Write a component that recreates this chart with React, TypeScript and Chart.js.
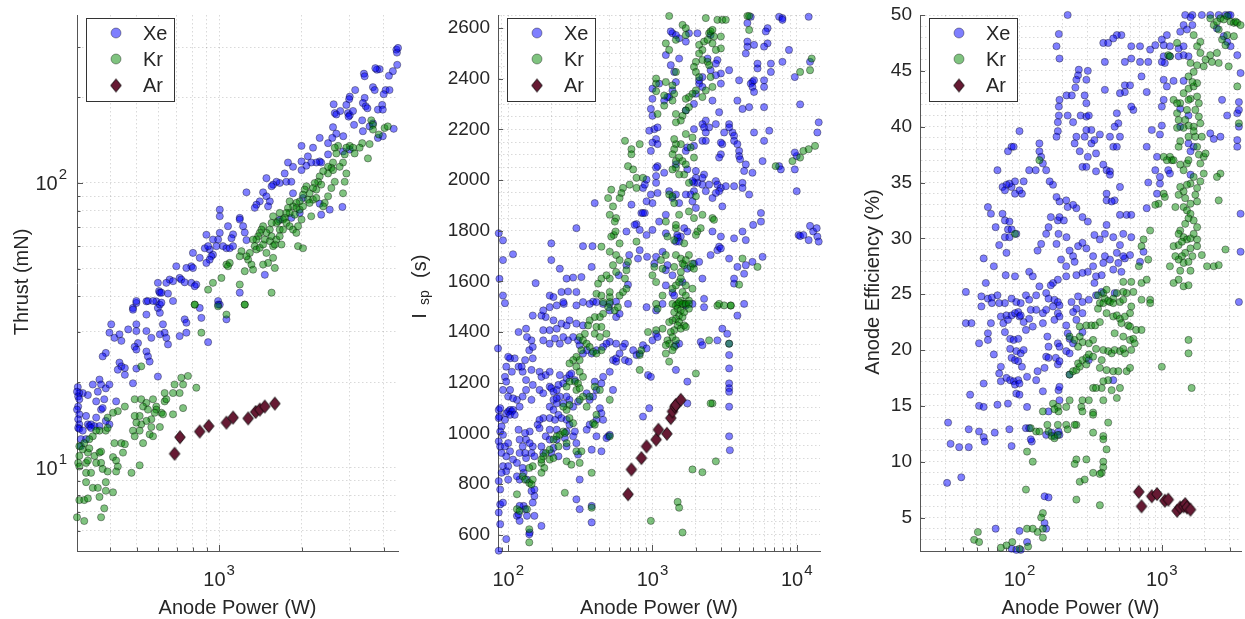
import React, { useEffect, useRef } from 'react';
import { Chart, registerables } from 'chart.js';

Chart.register(...registerables);

type Pt = [number, number];

const FONT = '"Liberation Sans", Arial, Helvetica, sans-serif';
const TEXT = '#262626';
const AXIS = '#555555';
const GRID = 'rgba(0,0,0,0.15)';
const XE_FILL = 'rgba(0,0,255,0.5)';
const KR_FILL = 'rgba(0,135,0,0.5)';
const AR_FILL = '#661a33';
const EDGE = 'rgba(0,0,0,0.45)';

// ---------- Panel 1: Thrust (mN) vs Anode Power (W) ----------
const thrustXe: Pt[] = [
  [4440,294],[4460,287],[4500,298],[4470,260],[4310,247],[4170,238],[3856,251],[3770,250],[3720,253],[3380,242],[3400,237],[3646,217],[3700,212],[4055,212],[4190,212],[3990,205],[3940,188],[3800,181],[3960,181],[3400,199],[3350,191],[3430,186],[3480,183],[3140,212],[3000,201],[2985,197],[2915,188],[2955,176],[3000,173],[3083,179],[3110,160],[2970,171],[2620,189],[2645,176],[2680,174],[2770,179],[2606,157],[2680,149],[2590,144],[2840,146],[3330,166],[3350,152],[3545,158],[3646,162],[3800,144],[3960,146],[4340,155],
  [2330,144],[2203,133],[2000,135],[2500,138],[2500,126],[2835,129],[3000,131],[2330,119],[2360,118],[2265,118],[2170,118],[2083,115],[2110,124],[2000,119],[2000,111],[1862,114],[1785,118],[1761,101],[1736,108],[1665,100],[1620,101],[1575,98.7],[1489,104],[1555,97.4],[1836,101],[1862,92],[2025,88.6],[1970,78.5],[1836,75.4],[1665,74.3],[1448,92.7],[1408,86.2],[1369,83.9],[1350,81.8],[1259,92.7],[1489,89.8],[1532,86.2],[1510,82.8],[2330,84.6],[2360,77.4],[2820,82.4],[2535,80.6],[1190,75.4],[1190,74.4],[1224,70.5],[1241,67],[1259,63],[1125,66],[1110,64],[1078,70.5],[1006,80.6],[1006,76.4],[1006,66.8],[992,63.3],[1034,60],[1064,59],[1094,59],[1125,60],[978,60],[950,63.3],[924,58.4],[899,65.8],[887,59],[912,60],[950,56],[937,55.3],[924,53.8],[899,52.4],[850,54.6],[803,56.8],[792,51],[803,50.3],[760,50.3],[698,51],[718,46.4],[728,45.8],[660,45.8],[679,45.2],[642,44.6],[792,44.6],[826,44],[815,43.4],[749,44.8],[598,44.6],[604,41.7],[608,41.2],[616,41.2],[651,40.9],[1469,47.6],[1190,41.2],[992,38.5],[1006,37.4],[485,36.4],[499,37.9],[543,38.4],[590,38.4],[598,36.4],[608,37.4],
  [499,38.5],[550,38.5],[574,38.5],[616,38],[608,35],[543,34.5],[485,35.9],[679,38.5],[749,33.2],[760,32.3],[850,36.4],[862,33.6],[1064,33.2],[992,37.4],[404,31.9],[499,31.9],[499,30.2],[543,30.2],[624,31.9],[633,29.8],[642,28.6],[608,29.4],[566,28.6],[718,29],[760,29.8],[651,27.1],[398,29.8],[415,28.6],[433,29.4],[440,27.9],[466,30.6],[506,27.4],[492,26.6],[499,26],[543,25.6],[550,24.6],[558,23.6],[386,25.3],[376,24.6],[433,23.4],[440,22.7],[427,22.1],[453,22.4],[453,21.2],[499,22.3],[598,20.9],[485,19.8],[366,20.4],[371,19.6],[386,19],[398,19.6],[361,18.5],[346,19.6],[332,18],[318,18.3],[309,18.3],[305,19.2],[303,18.5],[306,17.8],[309,17.4],[306,16.4],[303,16],[309,15.4],[306,14.8],[309,14.2],[306,13.8],[309,13.7],[313,12.6],[327,12.6],[332,14.2],[327,15.2],[336,14],[341,14.2],[351,14],[356,15],[366,14],[398,14.2],[386,14.6],[356,17.1],[371,16],[381,17.4],[421,17.1],[376,16.2],[313,11.9],[341,13.8],[318,13.5],[912,27.6],
];
const thrustKr: Pt[] = [
  [3595,166],[3646,160],[4020,156],[4130,158],[3830,148],[3646,154],[3545,137],[3495,122],[3330,138],[3260,133],[3000,135],[3083,133],[3125,127],[2915,133],[2875,126],[2720,135],[2645,133],[2680,127],[2835,118],[2756,114],[2606,118],[2570,113],[2500,114],[2500,108],[2606,111],[2915,108],[2875,101],[2645,101],[2570,96],[2400,110],[2330,105.5],[2300,101],[2360,98.7],[2235,100],[2265,94.8],[2203,96],[2140,92],[2110,87.4],[2203,87.4],[2265,88.6],[2500,89.8],[2835,92],[2430,85.1],[2400,82.8],[2083,97.4],[2054,94.8],[2025,91],[1970,86.2],[1915,85.1],[1862,82.8],[1810,86.2],[1785,81.7],[1915,81.7],[1970,80.6],[2025,82.8],[1890,77.4],[1810,78.5],[1761,78.5],[1736,75.4],[1712,74.4],[1665,78.5],[1643,73.4],[1620,72.4],[1665,68.6],[1712,68.6],[1761,72.4],[1810,70.5],[1862,68.6],[1915,66.8],[1942,70.5],[2000,74.4],[2170,76.4],[2140,85.1],[1575,76.4],[1555,72.4],[1532,68.6],[1489,66.8],[1448,70.5],[1428,68.6],[1408,66.8],[1389,65],[1369,63.3],[1331,63.3],[1350,60],[1369,58.4],[1408,59.2],[1448,60.8],[1469,63.3],[1532,62.5],[1575,60],[1598,60.8],[1555,65],[1620,63.3],[1665,65],[1690,60.8],[1489,56.8],[1510,52.4],[1448,51.7],[1575,54.6],[1598,50.3],[1555,41.2],[1295,56.8],[1277,53.8],[1259,55.3],[1207,57.6],[1190,55.3],[1313,51.7],[1331,49.6],[1241,49],[1190,44],[1064,51.7],[1094,52.4],[1078,51],[1020,46.4],[950,44.6],[912,42.2],[815,37.4],[1241,37.4],[1942,60],[2025,59],
  [815,37.4],[992,36.9],[1064,34.5],[1241,37.4],[862,29.8],[520,22.7],[492,17.4],[520,17.4],[574,17.4],[543,16.9],[528,16.4],[590,16.4],[633,17.1],[642,17.4],[633,18.3],[688,19.6],[728,20.7],[718,18.3],[739,19.6],[770,21],[826,19.1],[679,18.3],[739,16.2],[679,15.4],[616,15.6],[624,15.4],[590,16],[550,16],[582,15.6],[566,14.8],[543,14.6],[520,14.2],[513,15.2],[492,15.2],[499,14.4],[485,13.5],[492,12.9],[513,13.5],[566,13.9],[608,13.9],[558,13.1],[528,12.2],[574,12.9],[453,16.4],[427,15.8],[410,15.6],[392,15],[386,13.5],[392,13.8],[366,13.5],[356,13.5],[346,12.9],[336,12.6],[322,12.2],[309,11.9],[318,11.6],[332,11.3],[336,11.7],[309,11],[306,10.4],[309,10.1],[327,10.4],[332,10.6],[351,11],[366,11.3],[371,11.4],[356,10.4],[371,10.4],[376,9.9],[410,10.9],[421,10.6],[427,10.1],[421,9.7],[392,9.7],[446,11.3],[440,12.2],[453,12.1],[415,12.2],[479,9.6],[513,10.2],[327,9.6],[341,9.6],[327,8.9],[309,7.7],[322,7.7],[332,7.8],[346,8.5],[361,8.5],[366,7.9],[386,8.9],[386,8.3],[381,7.2],[410,8.2],[303,6.7],[322,6.5],[371,6.7],
];
const thrustAr: Pt[] = [
  [688,11.2],[720,12.8],[850,13.4],[917,14],[1064,14.4],[1125,15],[1277,14.9],[1360,15.7],[1408,16],[1469,16.4],[1598,16.8],
];
const thrustXTicks = [400,500,600,700,800,900,1000,2000,3000,4000];
const thrustYTicks = [6,7,8,9,10,20,30,40,50,60,70,80,90,100,200,300];

// ---------- Panel 2: Isp (s) vs Anode Power (W) ----------
const ispXe: Pt[] = [
  [86,1790],[92,1762],[92,1684],[108,1707],[87,1610],[92,1544],[95,1514],[155,1593],[199,1750],[228,1650],[199,1684],[297,1810],[398,1909],[330,1739],[384,1739],[379,1657],[282,1615],[322,1617],[254,1611],[194,1544],[206,1538],[234,1558],[260,1560],[297,1558],[243,1511],[330,1518],[388,1520],[506,1511],[560,1520],[584,1624],[677,1587],[660,1664],[690,1704],[794,1690],[816,1723],[918,1697],[1060,1697],[1030,1670],[910,1783],[816,1803],[775,1826],[753,1823],[838,1870],[885,1870],[860,1870],[715,1903],[660,1797],[1000,1803],[1113,1836],[1238,1863],[1377,1929],[1306,1956],[1454,1943],[1531,1909],[1660,1810],[1745,1797],[1572,1777],[1454,1757],[1485,1783],[1495,1773],[1531,1757],[1238,1790],[1175,1717],[1270,1664],[1238,1644],[1377,1624],[1377,1555],[1415,1544],[1238,1584],[1617,1597],[1745,1650],[1940,1670],[2107,1677],[2220,1611],[2280,1531],[2530,1704],[2606,1797],[2820,1723],[2899,1737],[2980,1777],[2980,1730],[3400,1690],[3680,1770],[3680,1591],[3680,1611],[3880,1657],[4320,1630],[4436,1664],[4934,1677],[4990,1823],[5650,1836],[4210,1797],[4436,1763],[5800,1697],[4210,1989],[4210,1969],[4680,1943],[4320,2036],[4934,2029],[4436,2062],[5650,1870],[10000,1956],[10300,1783],[10560,1779],[11120,1783],[12100,1763],[12370,1819],[13000,1797],[13760,1810],[13900,1777],[14200,1757],[14200,2228],[13900,2188],[10000,2095],[9700,2042],[7551,2055],[7760,2042],[9700,2109],[10560,2299],[9700,2407],[12100,2645],[12370,2467],[7551,2645],[7960,2640],[7960,2633],[8840,2514],[7960,2467],[6620,2460],[6620,2427],[6280,2540],[6280,2600],[6104,2587],[5940,2527],[5060,2534],[5350,2441],[4436,2500],[4550,2527],[4550,2547],[4550,2620],[4800,2645],[4934,2388],[4800,2381],[5060,2394],[4934,2368],[5060,2348],[5940,2394],[5940,2368],[5940,2288],[6450,2195],[5940,2155],[5060,2188],[4210,2281],[4680,2288],[3400,2434],[3988,2394],[3880,2314],[3400,2221],[3586,2188],[3680,2175],[3680,2155],[3880,2142],[3988,2115],[3988,2095],[4050,2082],[3400,2208],[3140,2188],[3050,2142],[2980,2148],[2980,2102],[2899,2089],[2750,2221],[2899,2268],[2980,2381],[2980,2421],[2820,2474],[2750,2460],[2750,2414],[2410,2480],[2530,2434],[2606,2314],[2470,2208],[2343,2235],[2220,2221],[2280,2208],[2343,2188],[2220,2155],[2343,2155],[2750,1996],[2820,1982],[2980,1969],[3224,1976],[3680,1976],[2899,1956],[2750,1949],[2606,1929],[3050,1896],[2470,1982],[2280,2022],[2220,2009],[2220,1982],[2343,1956],[2000,2009],[2050,1989],[1940,1956],[1940,1989],[1840,1943],[1745,2042],[1703,2115],[1745,2129],[1940,2135],[1940,2201],[1703,2275],[1940,2301],[2000,2341],[2107,2381],[2220,2368],[2107,2394],[2220,2407],[2530,2573],[2050,2580],[1790,2580],[1703,2547],[1531,2560],[1377,2580],[1454,2573],[1340,2587],[1238,2494],[1531,2480],[1340,2454],[1415,2427],[1454,2387],[1377,2354],[1306,2328],[1270,2328],[1206,2314],[1113,2381],[1000,2361],[1000,2321],[975,2281],[1000,2254],[1030,2201],[1085,2208],[1060,2162],[950,2195],[1000,2148],[1085,2142],[975,2115],[1085,2055],[1060,2049],[1060,2016],[1060,1989],[1085,1949],[975,1943],[1000,1909],[910,1916],[860,1969],[885,1982],[910,2002],[1206,2029],[1454,2062],[1703,1943],[1894,1996],[2000,2036],[1894,1916],[2000,1890],[5800,2075],[5350,2460],
  [85,1335],[86,1092],[88,1099],[87,1066],[86,1060],[97,1079],[100,1086],[103,1092],[106,1086],[108,1092],[103,1073],[111,1073],[120,1105],[95,1053],[90,1027],[88,1007],[92,994],[86,968],[88,948],[95,948],[100,961],[103,929],[90,922],[97,909],[108,896],[115,883],[92,870],[100,870],[97,850],[90,844],[100,817],[86,811],[88,778],[88,719],[92,726],[86,687],[88,641],[97,582],[86,536],[115,674],[120,654],[118,680],[128,713],[131,700],[120,713],[135,674],[141,608],[140,601],[148,726],[152,752],[145,772],[152,778],[170,634],[152,674],[120,817],[115,830],[128,844],[135,817],[126,863],[133,902],[145,922],[152,909],[131,922],[126,948],[133,975],[148,948],[141,961],[170,948],[175,922],[141,1007],[131,1001],[120,975],[120,922],[118,1014],[115,1132],[126,1145],[133,1171],[133,1210],[126,1243],[118,1263],[124,1263],[131,1289],[140,1328],[145,1367],[148,1341],[135,1380],[133,1413],[118,1400],[111,1296],[103,1296],[97,1263],[106,1243],[95,1223],[97,1204],[103,1171],[92,1171],[100,1145],[108,1138],[100,1302],[148,1296],[145,1250],[165,1243],[170,1223],[182,1230],[194,1243],[148,1191],[165,1171],[175,1158],[145,1132],[194,1184],[199,1178],[206,1164],[217,1171],[223,1191],[241,1197],[228,1230],[254,1217],[266,1230],[274,1236],[290,1210],[206,1132],[217,1118],[194,1105],[206,1092],[223,1073],[234,1060],[194,1060],[211,1053],[175,1060],[165,1053],[160,1034],[165,1020],[194,1014],[217,1014],[182,988],[194,975],[217,975],[206,942],[199,922],[223,909],[254,948],[247,981],[282,988],[290,1007],[254,1007],[266,1034],[254,1053],[297,961],[305,916],[350,1014],[367,1034],[409,1053],[432,1099],[493,988],[506,994],[480,981],[409,988],[379,935],[313,817],[297,739],[313,700],[379,713],[379,648],[443,929],[305,1125],[282,1105],[266,1132],[254,1145],[241,1118],[228,1145],[217,1138],[350,1158],[367,1132],[388,1145],[409,1171],[443,1197],[455,1223],[506,1243],[533,1289],[560,1283],[645,1289],[685,1283],[560,1296],[592,1315],[645,1354],[735,1328],[775,1309],[625,1341],[560,1354],[506,1361],[480,1354],[455,1341],[409,1328],[379,1315],[350,1328],[330,1315],[313,1348],[305,1367],[282,1380],[260,1367],[241,1380],[228,1354],[211,1374],[194,1354],[175,1367],[175,1407],[194,1407],[217,1413],[234,1433],[254,1426],[266,1446],[297,1433],[330,1426],[206,1446],[182,1459],[170,1465],[148,1465],[175,1485],[194,1498],[217,1505],[241,1518],[297,1505],[367,1511],[409,1518],[455,1511],[506,1485],[560,1459],[592,1472],[677,1511],[910,1498],[1060,1485],[1175,1511],[860,1348],[910,1335],[1000,1367],[932,1230],[975,1223],[816,1315],[1060,1393],[1085,1380],[1454,1250],[1745,1204],[1745,1118],[950,1099],[860,1066],[533,1171],[443,1079],[455,1053],[398,1204],[1531,1354],[1454,1348],[2160,1361],[2220,1348],[2820,1367],[3050,1413],[3300,1393],[3400,1354],[3400,1309],[3400,1256],[3400,1197],[3400,1178],[3400,1164],[3400,1105],[3400,988],[3440,933],[3880,1465],[4320,1511],[1703,1505],[1894,1511],[2280,1498],
];
const ispKr: Pt[] = [
  [1306,2648],[1617,2613],[1703,2600],[1454,2554],[1703,2573],[1238,2540],[1306,2514],[2107,2534],[2280,2547],[2470,2580],[2530,2587],[2606,2593],[2820,2633],[3050,2633],[3224,2633],[2343,2640],[4550,2648],[4680,2648],[4680,2593],[2670,2567],[2410,2554],[2980,2567],[2980,2520],[2750,2514],[2606,2540],[2220,2514],[2107,2500],[2220,2474],[2000,2467],[1940,2447],[2000,2427],[2107,2407],[2410,2467],[2470,2454],[2530,2407],[2606,2368],[2343,2354],[2220,2328],[2000,2354],[1894,2341],[1790,2328],[1703,2321],[1790,2288],[1703,2275],[1617,2254],[1572,2235],[1454,2228],[1454,2261],[1377,2314],[1415,2341],[1377,2374],[1206,2334],[1206,2294],[1085,2261],[1060,2351],[1060,2381],[1060,2401],[1238,2387],[1454,2427],[1703,2182],[1894,2168],[1840,2129],[1940,2089],[1572,2142],[1454,2142],[1415,2162],[1415,2122],[1377,2102],[1454,2075],[1531,2089],[1617,2075],[1703,2062],[1660,2022],[1454,2049],[1377,2042],[1306,1943],[1377,1936],[1415,1909],[1531,2022],[1790,1989],[2000,1936],[1238,1836],[1531,1863],[1790,1876],[1940,1850],[2606,1850],[2670,1843],[2220,1863],[2050,1797],[2160,1810],[2000,1783],[1454,1810],[1454,1823],[1415,1763],[1270,1777],[1660,1750],[1790,1704],[1454,1704],[1572,1690],[1617,1670],[1660,1664],[1703,1684],[1840,1657],[1940,1650],[1894,1670],[1572,1637],[1415,1657],[1030,1657],[1145,1684],[1175,1650],[1000,1624],[1060,1597],[1377,1571],[1454,1584],[1531,1597],[1572,1611],[1703,1584],[1617,1558],[1703,1544],[1790,1524],[1572,1524],[1495,1511],[1660,1511],[1894,1571],[2820,1504],[3490,1504],[3988,1587],[5350,1657],[4210,1690],[10560,2089],[11120,2115],[12100,2122],[13400,2135],[12370,2434],[12700,2480],[10560,2427],[7150,2055],[9342,2075],[645,2155],[816,2142],[715,2122],[715,2102],[677,2055],[735,2042],[775,2009],[860,2009],[775,1969],[695,1982],[625,1969],[609,1949],[592,1929],[533,1896],[518,1962],[493,1929],[506,1863],[560,1850],[548,1836],[540,1783],[518,1777],[555,1797],[506,1717],[443,1737],[592,1750],[560,1704],[533,1664],[592,1684],[677,1677],[660,1644],[645,1611],[560,1637],[506,1611],[480,1624],[443,1611],[420,1591],[409,1551],[443,1544],[455,1518],[506,1538],[592,1544],[625,1558],[660,1571],[506,1558],[1060,1511],[1175,1544],[1238,1704],[775,1757],
  [1377,1511],[1454,1505],[1531,1518],[1617,1511],[1703,1511],[1790,1511],[1495,1492],[1572,1485],[1415,1478],[1531,1465],[1617,1459],[1454,1452],[1377,1446],[1306,1439],[1531,1439],[1660,1426],[1495,1426],[1572,1413],[1415,1407],[1340,1400],[1377,1380],[1270,1367],[1306,1354],[1454,1367],[1415,1341],[1377,1328],[1238,1315],[1306,1283],[1238,1348],[1703,1420],[1790,1492],[1660,1478],[2899,1511],[3490,1505],[2470,1367],[3400,1354],[2606,1118],[2000,1236],[1175,1413],[1060,1407],[932,1400],[816,1250],[1085,1492],[506,1518],[548,1485],[576,1498],[493,1498],[455,1472],[432,1459],[398,1459],[367,1446],[358,1426],[409,1420],[443,1420],[398,1393],[432,1380],[480,1393],[340,1393],[313,1380],[330,1367],[350,1354],[367,1341],[388,1322],[409,1315],[443,1328],[322,1328],[297,1302],[313,1289],[282,1289],[266,1276],[297,1263],[313,1243],[330,1223],[290,1204],[305,1197],[266,1204],[254,1184],[297,1171],[313,1178],[398,1184],[432,1171],[330,1145],[313,1132],[266,1112],[254,1092],[266,1060],[241,1105],[350,1105],[367,1145],[282,1040],[409,1073],[388,1040],[241,1007],[228,994],[217,988],[247,1001],[206,975],[223,948],[254,961],[194,935],[182,922],[175,909],[170,883],[178,863],[148,870],[170,844],[140,863],[126,830],[131,817],[140,804],[145,798],[148,817],[170,896],[194,896],[206,902],[254,889],[274,876],[297,929],[322,929],[313,883],[247,765],[115,759],[115,700],[120,693],[135,700],[140,621],[140,569],[379,706],[398,1034],[379,844],[506,988],[506,1132],[816,1309],[838,1328],[1495,729],[1531,706],[1617,608],[975,654],[1894,857],[2220,846],[2530,1118],[2750,889],[3140,1505],
];
const ispAr: Pt[] = [
  [677,759],[715,857],[838,902],[910,948],[1060,975],[1100,1014],[1260,998],[1340,1060],[1377,1086],[1430,1105],[1454,1112],[1572,1132],
];
const ispXTicks = [90,100,200,300,400,500,600,700,800,900,1000,2000,3000,4000,5000,6000,7000,8000,9000,10000];

// ---------- Panel 3: Anode Efficiency (%) vs Anode Power (W) ----------
const effXe: Pt[] = [
  [218,50],[189,48.3],[191,46.1],[182,47.2],[261,45.1],[302,45],[258,44.6],[251,44.2],[247,43.5],[295,44.2],[191,42.4],[214,42.8],[233,42.8],[287,42.8],[295,42.1],[189,41.8],[189,41],[186,40.4],[186,39.6],[182,39.1],[218,41],[238,40.4],[269,41],[295,40.9],[307,41],[320,39.7],[295,39.7],[287,39.1],[251,39.1],[244,38.5],[265,37.8],[277,36.4],[295,36.4],[302,37.3],[320,38.5],[336,38.8],[345,37.6],[367,39.3],[345,36],[388,36.6],[409,36.1],[432,36],[409,34],[409,33.4],[466,33.4],[432,35.7],[456,38.2],[483,38.2],[508,34.6],[508,32.1],[566,32.1],[610,32.1],[444,33.3],[409,31.2],[398,30.4],[367,29.9],[336,30.3],[302,31.5],[277,31.9],[251,32.7],[238,33],[218,32.8],[213,33.4],[191,33.3],[182,33.7],[172,34.8],[163,35.1],[154,36.1],[146,36.7],[138,38.5],[138,37.8],[142,37.3],[130,36.1],[117,36.1],[107,35.1],[104,34],[100,34.3],[93,34],[88,34.6],[93,35.1],[85,34.9],[81,34.8],[76,34.6],[88,38.2],[91,38.2],[100,39.6],[83,37.8],[70,36.1],[79,34.3],[60,32.8],[63,32.2],[76,32.2],[79,31.6],[68,31],[83,30.8],[85,31.5],[88,30.8],[95,30.4],[79,30.1],[85,30.1],[72,29.4],[81,28.7],[56,28.2],[66,27.5],[58,26],[80,26.7],[93,26.6],[117,27],[124,26.6],[138,25.7],[134,28.9],[142,29.5],[154,30.4],[160,31],[166,31.9],[186,31.6],[191,31.9],[205,31.6],[188,30.4],[214,30.1],[182,29.5],[225,28.9],[238,28.4],[244,27.9],[258,29.3],[277,29.6],[295,29.1],[329,28.4],[329,27.5],[302,27],[277,26.9],[251,26.7],[213,26.6],[186,26.3],[172,26],[166,25.8],[196,28.1],[213,27.5],[336,26],[345,26.6],[378,26.7],[432,28.1],[456,27.2],[495,27.8],[520,27],[550,28.2],[483,28.7],[508,29.4],[536,28.4],[598,28.5],[610,30.1],[536,30.4],[456,30.1],[398,28.4],[388,27.8],[466,25.1],[703,27.9],[744,28.8],[783,32.7],[803,35],[900,36.1],[970,34.9],[925,34],[783,38.2],[850,39.7],[1000,40.1],[1000,41.8],[1030,42.4],[970,39.3],[925,37.3],[970,35.5],[1110,36.1],[1140,35.8],[783,43.1],[720,44.5],[1030,44.2],[1085,43.6],[1209,44.1],[1422,44.1],[1347,41.6],[1347,40],[1540,41],[1540,38.5],[1674,38.2],[1590,35.7],[1590,37.8],[2190,39.4],[2317,38.9],[2582,39.1],[2650,42.4],[2878,41],[3390,38.8],[3480,40],[3390,41.2],[3480,41.5],[3480,42.2],[3390,38.2],[3575,44.8],[3390,46.4],[3040,47.2],[2878,47.6],[2724,48.1],[2440,48.8],[2510,50],[2800,50],[2950,50],[3040,50],[2190,50],[1910,50],[1640,50],[1590,49.8],[1460,50],[1422,49.1],[1640,49.1],[1502,48.7],[1347,48.5],[1312,47],[1422,47.2],[1540,46.3],[1422,46.4],[1312,46.3],[1140,47.2],[1140,46.3],[1050,45.7],[1030,46.3],[1000,45.8],[1030,47.3],[1085,48.2],[1000,47.8],[900,47.3],[828,46.9],[803,45.8],[703,45.8],[703,47.2],[610,46.1],[610,47.2],[550,45.8],[520,48.2],[483,48.2],[550,43.7],[598,43.7],[631,41.5],[610,41.8],[483,41.2],[495,40.3],[466,40],[432,39.1],[508,39.1],[398,45.8],[388,47.5],[420,47.5],[456,47.9],[398,43.3],[550,43.1],[508,43],[3575,32.2],[3575,28.8],
  [42,25.2],[54,24.8],[60,24.6],[64,24.7],[70,24.9],[79,24.2],[88,24.6],[95,24.3],[102,24.2],[111,24.9],[117,24.5],[131,24.9],[154,25.1],[160,24.6],[176,24.5],[186,24.3],[191,24],[232,24.3],[258,24.8],[277,24.3],[307,24.5],[345,24.9],[378,25.2],
  [54,23.9],[64,24.2],[72,24.2],[74,23],[77,22.4],[81,23.1],[79,21.6],[83,22.7],[88,23.1],[93,23.3],[98,23.4],[100,23],[102,23.1],[107,22.5],[117,22.8],[120,23.6],[124,22.1],[111,21.8],[86,21],[91,20.9],[98,21],[63,22.4],[60,21.5],[42,22.4],[46,22.4],[52,20.6],[60,20.9],[66,19.6],[86,20.1],[95,19.9],[102,19.7],[107,20],[88,19.3],[93,19.1],[98,19],[104,18.5],[113,17.6],[131,17.3],[134,18.1],[74,18.5],[72,17.9],[74,17.2],[81,17.5],[86,17.3],[91,17.2],[93,16.9],[98,17.3],[100,17],[95,16.1],[100,16],[56,17],[70,15.1],[83,15.2],[113,14.9],[146,16.3],[150,18.4],[154,19.4],[160,20.3],[157,21.2],[146,22.4],[146,23.3],[131,23.6],[154,23.6],[172,23.9],[186,23.3],[191,23],[176,22.7],[213,22.2],[218,21.5],[225,21],[186,20.6],[191,20.3],[180,19.3],[186,18.7],[191,19],[213,19.9],[225,19.7],[238,20.6],[251,23.7],[277,23.3],[277,21.6],[251,22.7],[238,23.4],[188,16.4],[191,15.5],[225,17.8],[191,16.7],[307,19.1],[456,17.3],[160,14.5],[176,12.3],[191,12.4],[188,12.7],[168,12.6],[154,12.4],[122,11.8],[111,13],[117,13],[120,12],[160,19.3],[31.5,13.5],[32.8,11.6],[37.7,11.3],[44,11.3],[31,8.1],[39,8.6],[44,12.9],[52,12.7],[56,12.2],[57,11.8],[67,12.6],[85,12.9],[88,11.4],[52,15],[56,14.9],[45,16],[68,4],[88,2.2],[100,3.8],[150,6.9],[160,6.8],[150,4.5],[154,4],[113,2.8],[102,2.1],[95,2.1],[3480,24.3],
];
const effKr: Pt[] = [
  [138,37],[93,30.4],[1110,46.4],[1140,46.3],[1280,47.5],[2190,49.7],[2317,49.1],[2440,49.4],[2510,48.7],[2582,49.7],[2724,49.6],[2878,49.9],[3040,49.4],[3207,49.3],[3300,49.4],[2650,47.8],[2878,48.2],[2800,47.3],[2440,46.6],[2190,46.4],[2250,45.8],[2510,45.7],[2030,46],[1865,47.6],[1865,46.6],[1770,47.2],[1674,48.2],[1590,45.7],[1674,44.9],[1540,44.5],[1770,45.5],[1970,45.4],[1770,42.7],[1820,42.1],[1720,41.5],[1820,40.9],[1865,40.3],[1674,40],[1540,40.1],[1460,40.6],[1422,39.9],[1347,42.1],[1422,43],[1540,43.4],[1590,42.5],[1674,43.6],[1770,43.9],[1640,44],[1502,41.5],[1540,42.4],[1280,41.2],[1312,40.6],[1280,39.9],[1209,42.4],[1280,42.1],[1347,38.7],[1312,38.2],[1540,39.1],[1720,39.1],[1770,38.2],[1820,37.5],[1865,36.7],[1970,35.8],[1865,35.1],[1674,35.5],[1590,34.9],[1770,34.5],[1720,33.9],[1770,33.3],[1590,33.1],[1460,33.6],[1422,34.2],[1502,34.8],[1347,34.6],[1312,33.9],[1347,36.6],[1422,36.1],[1502,36.7],[1540,37],[1422,32.8],[1502,32.5],[1590,32.2],[1540,31.8],[1674,31.6],[1770,31],[1460,31.3],[1347,30.7],[1312,30.4],[1422,30.1],[1502,29.9],[1590,30],[1674,30.4],[1770,29.9],[1590,29.1],[1460,28.7],[1385,28.4],[1312,28.1],[1422,27.8],[1540,27.9],[1640,28.4],[1770,29.3],[1910,28.5],[2079,27.5],[2317,27.5],[2510,27.6],[2510,33.4],[2582,35.8],[2440,35.5],[2800,29],[3480,40.3],[3390,43.6],[2950,45.4],[3207,48.1],[3390,49.3],[3575,49.1],[1312,26.3],[1422,25.7],[1540,25.8],[1347,27.1],[1590,27.1],[1140,27.5],[1209,26],[1245,28.4],[1209,29.3],[1312,29.4],[1385,29.7],[1175,37],[1140,37.3],[1209,37],[1085,37],[1030,37.3],[1030,34],[1050,33.7],[1245,32.8],[950,33.1],[900,33],[828,30.7],[744,29.9],[720,29.3],[803,28.1],[690,27.5],[720,26],[783,26.3],[828,24.5],[720,24.5],[631,25.2],[566,25.1],[610,26.1],[508,24.3],[536,25.2],[483,25.1],[456,24.6],[432,24.3],[398,24.6],[388,25.1],[409,25.4],[356,24.9],[367,24.2],[536,26.1],[1970,37.3],[2030,37.6],[1674,39.6],[1910,39.1],
  [111,7.5],[124,10],[113,10.9],[120,13],[131,12.7],[138,12.7],[146,14.5],[157,13.3],[160,12.7],[168,12.3],[176,12.1],[186,13.3],[186,12.4],[213,13.3],[218,12.9],[251,13.3],[172,15.2],[186,14.9],[188,14.5],[176,14.7],[213,14.9],[225,15.5],[244,13.3],[272,14.9],[277,14.5],[329,14.4],[329,14.2],[388,15.5],[277,15.5],[307,15.5],[329,12.6],[388,12.3],[388,12],[420,13.5],[409,11.1],[388,10],[388,9.5],[378,9],[367,8.9],[329,9],[295,10.2],[251,10.2],[244,9.8],[265,8.2],[287,8.4],[251,6.6],[367,6.1],[225,17.8],[238,18.1],[251,18.2],[258,18.8],[265,18.5],[277,19.1],[295,19.3],[295,18.7],[307,19.6],[329,19.4],[345,20.1],[378,19.1],[388,20],[420,19.9],[444,19.7],[466,20],[508,19.9],[550,19.7],[610,20],[536,20.1],[367,18.4],[409,18.2],[420,17.3],[456,18.1],[495,18.1],[566,18.1],[598,18.4],[508,16.6],[483,15.7],[444,16.4],[378,16.6],[388,17.2],[329,16.6],[345,16.6],[329,20.9],[307,20.6],[277,20.7],[265,21.2],[258,20.3],[225,21.2],[244,20.9],[265,22.1],[295,22.2],[320,22.2],[340,22.2],[367,22.5],[409,23.3],[456,23],[483,23.1],[508,22.8],[550,23],[520,22.4],[580,22.2],[598,23.3],[610,23.9],[660,21.8],[720,21.8],[466,21.5],[536,21.2],[598,20.9],[631,21],[645,20.6],[598,22.1],[388,24.2],[420,24.4],[456,24.2],[536,24.5],[828,24.2],[356,23.7],[1000,18.5],[1540,20.9],[1540,19.7],[1620,16.6],[146,5.4],[142,5],[146,4],[146,3.2],[134,3.7],[115,2.4],[100,2.2],[89,2.8],[81,2.5],[74,2.3],[51,3.7],[48,3],[52,2.8],[113,4],[124,4],
];
const effAr: Pt[] = [
  [689,7.3],[720,6],[850,6.9],[925,7.1],[1050,6.5],[1110,6.6],[1280,5.6],[1347,5.9],[1422,6],[1460,6.2],[1502,5.9],[1590,5.7],
];
const effXTicks = [20,30,40,50,60,70,80,90,100,200,300,400,500,600,700,800,900,1000,2000,3000];

const legendLabels = ['Xe', 'Kr', 'Ar'];

interface PanelSpec {
  left: number;
  width: number;
  yAxisW: number;
  padRight: number;
  xMin: number;
  xMax: number;
  xTicks: number[];
  yLog: boolean;
  yMin: number;
  yMax: number;
  yTicks?: number[];
  yStep?: number;
  yLabelEvery?: number;
  xe: Pt[];
  kr: Pt[];
  ar: Pt[];
  yTitle: string;
  isp?: boolean;
  yTitleDx: number;
}

const isPow10 = (v: number) => Math.abs(Math.log10(v) - Math.round(Math.log10(v))) < 1e-9;

function drawPow(ctx: CanvasRenderingContext2D, v: number, x: number, baseline: number, align: 'center' | 'right') {
  const e = String(Math.round(Math.log10(v)));
  ctx.font = `20px ${FONT}`;
  const w1 = ctx.measureText('10').width;
  ctx.font = `15px ${FONT}`;
  const w2 = ctx.measureText(e).width;
  const total = w1 + 1 + w2;
  const x0 = align === 'center' ? x - total / 2 : x - total;
  ctx.textAlign = 'left';
  ctx.textBaseline = 'alphabetic';
  ctx.font = `20px ${FONT}`;
  ctx.fillText('10', x0, baseline);
  ctx.font = `15px ${FONT}`;
  ctx.fillText(e, x0 + w1 + 1, baseline - 11);
}

function diamondImage(): HTMLCanvasElement {
  const c = document.createElement('canvas');
  c.width = 14;
  c.height = 16;
  const g = c.getContext('2d')!;
  g.beginPath();
  g.moveTo(7, 1.5);
  g.lineTo(12.3, 8);
  g.lineTo(7, 14.5);
  g.lineTo(1.7, 8);
  g.closePath();
  g.fillStyle = AR_FILL;
  g.fill();
  g.strokeStyle = '#000';
  g.lineWidth = 0.8;
  g.stroke();
  return c;
}

function overlayPlugin(s: PanelSpec, diamond: HTMLCanvasElement) {
  return {
    id: 'overlay',
    afterDraw(chart: any) {
      const ctx: CanvasRenderingContext2D = chart.ctx;
      const a = chart.chartArea;
      const xs = chart.scales.x;
      const ys = chart.scales.y;
      ctx.save();
      // inward tick marks
      ctx.strokeStyle = AXIS;
      ctx.lineWidth = 1;
      ctx.beginPath();
      for (const v of s.xTicks) {
        const px = Math.round(xs.getPixelForValue(v)) + 0.5;
        const len = isPow10(v) ? 6 : 3.5;
        ctx.moveTo(px, a.bottom);
        ctx.lineTo(px, a.bottom - len);
      }
      if (s.yLog && s.yTicks) {
        for (const v of s.yTicks) {
          const py = Math.round(ys.getPixelForValue(v)) + 0.5;
          const len = isPow10(v) ? 6 : 3.5;
          ctx.moveTo(a.left, py);
          ctx.lineTo(a.left + len, py);
        }
      } else {
        const every = s.yLabelEvery || 1;
        const first = Math.ceil(s.yMin / every) * every;
        for (let v = first; v <= s.yMax; v += every) {
          const py = Math.round(ys.getPixelForValue(v)) + 0.5;
          ctx.moveTo(a.left, py);
          ctx.lineTo(a.left + 5, py);
        }
      }
      ctx.stroke();

      ctx.fillStyle = TEXT;
      for (const v of s.xTicks) {
        if (isPow10(v)) drawPow(ctx, v, xs.getPixelForValue(v), 586, 'center');
      }
      if (s.yLog && s.yTicks) {
        for (const v of s.yTicks) {
          if (isPow10(v)) drawPow(ctx, v, a.left - 10, ys.getPixelForValue(v) + 7, 'right');
        }
      }
      // x title
      ctx.font = `20px ${FONT}`;
      ctx.textAlign = 'center';
      ctx.textBaseline = 'alphabetic';
      ctx.fillText('Anode Power (W)', (a.left + a.right) / 2, 614);
      // y title
      ctx.save();
      const cy = 282;
      ctx.translate(a.left + s.yTitleDx, cy);
      ctx.rotate(-Math.PI / 2);
      if (s.isp) {
        ctx.textBaseline = 'alphabetic';
        ctx.textAlign = 'center';
        ctx.font = `20px ${FONT}`;
        ctx.fillText('I', -34, 0);
        ctx.textAlign = 'left';
        ctx.font = `14px ${FONT}`;
        ctx.fillText('sp', -23, 3);
        ctx.font = `20px ${FONT}`;
        ctx.fillText('(s)', 4, 0);
      } else {
        ctx.textAlign = 'center';
        ctx.textBaseline = 'middle';
        ctx.font = `20px ${FONT}`;
        ctx.fillText(s.yTitle, 0, 0);
      }
      ctx.restore();
      // legend
      const lx = a.left + 9;
      const ly = a.top + 3;
      ctx.fillStyle = '#ffffff';
      ctx.fillRect(lx, ly, 88, 83);
      ctx.strokeStyle = '#333333';
      ctx.lineWidth = 1;
      ctx.strokeRect(Math.round(lx) + 0.5, Math.round(ly) + 0.5, 88, 83);
      const rows = [a.top + 18, a.top + 44, a.top + 70.5];
      const mx = a.left + 39;
      legendLabels.forEach((lab, i) => {
        const y = rows[i];
        if (i < 2) {
          ctx.beginPath();
          ctx.arc(mx, y, 5, 0, Math.PI * 2);
          ctx.fillStyle = i === 0 ? XE_FILL : KR_FILL;
          ctx.fill();
          ctx.strokeStyle = EDGE;
          ctx.lineWidth = 0.8;
          ctx.stroke();
        } else {
          ctx.drawImage(diamond, mx - diamond.width / 2, y - diamond.height / 2);
        }
        ctx.fillStyle = TEXT;
        ctx.font = `20px ${FONT}`;
        ctx.textAlign = 'left';
        ctx.textBaseline = 'middle';
        ctx.fillText(lab, a.left + 66, y + 1);
      });
      ctx.restore();
    },
  };
}

const toXY = (arr: Pt[]) => arr.map(([x, y]) => ({ x, y }));

function buildConfig(s: PanelSpec): any {
  const diamond = diamondImage();
  const gridCfg = { color: GRID, drawTicks: false, lineWidth: 1 };
  const borderCfg = { color: AXIS, width: 1, dash: [1.5, 2.5] };
  const yScale: any = s.yLog
    ? {
        type: 'logarithmic',
        min: s.yMin,
        max: s.yMax,
        afterBuildTicks: (sc: any) => {
          sc.ticks = (s.yTicks || []).map((v) => ({ value: v }));
        },
        afterFit: (sc: any) => {
          sc.width = s.yAxisW;
          sc.paddingTop = 0;
          sc.paddingBottom = 0;
        },
        ticks: { callback: () => '', autoSkip: false },
        grid: gridCfg,
        border: borderCfg,
      }
    : {
        type: 'linear',
        min: s.yMin,
        max: s.yMax,
        afterFit: (sc: any) => {
          sc.width = s.yAxisW;
          sc.paddingTop = 0;
          sc.paddingBottom = 0;
        },
        ticks: {
          stepSize: s.yStep,
          autoSkip: false,
          padding: 8,
          color: TEXT,
          font: { family: FONT, size: 19 },
          callback: (v: number) => (Math.abs(v % (s.yLabelEvery || 1)) < 1e-9 ? String(v) : ''),
        },
        grid: gridCfg,
        border: borderCfg,
      };
  return {
    type: 'scatter',
    data: {
      datasets: [
        { label: 'Ar', data: toXY(s.ar), pointStyle: diamond, pointRadius: 6, order: 0, clip: false },
        {
          label: 'Kr', data: toXY(s.kr), pointStyle: 'circle', pointRadius: 3.6,
          backgroundColor: KR_FILL, borderColor: EDGE, borderWidth: 0.8, order: 1, clip: false,
        },
        {
          label: 'Xe', data: toXY(s.xe), pointStyle: 'circle', pointRadius: 3.6,
          backgroundColor: XE_FILL, borderColor: EDGE, borderWidth: 0.8, order: 2, clip: false,
        },
      ],
    },
    options: {
      animation: false,
      responsive: false,
      maintainAspectRatio: false,
      devicePixelRatio: 1,
      events: [],
      layout: { autoPadding: false, padding: { top: 15, right: s.padRight, left: 0, bottom: 0 } },
      plugins: { legend: { display: false }, tooltip: { enabled: false }, title: { display: false } },
      scales: {
        x: {
          type: 'logarithmic',
          min: s.xMin,
          max: s.xMax,
          afterBuildTicks: (sc: any) => {
            sc.ticks = s.xTicks.map((v) => ({ value: v }));
          },
          afterFit: (sc: any) => {
            sc.height = 68;
            sc.paddingLeft = 0;
            sc.paddingRight = 0;
          },
          ticks: { callback: () => '', autoSkip: false, maxRotation: 0 },
          grid: gridCfg,
          border: borderCfg,
        },
        y: yScale,
      },
    },
    plugins: [overlayPlugin(s, diamond)],
  };
}

const panels: PanelSpec[] = [
  {
    left: 0, width: 410, yAxisW: 77, padRight: 12,
    xMin: 303, xMax: 4500, xTicks: thrustXTicks,
    yLog: true, yMin: 5.1, yMax: 389, yTicks: thrustYTicks,
    xe: thrustXe, kr: thrustKr, ar: thrustAr,
    yTitle: 'Thrust (mN)', yTitleDx: -55,
  },
  {
    left: 410, width: 425, yAxisW: 88, padRight: 15,
    xMin: 85, xMax: 14500, xTicks: ispXTicks,
    yLog: false, yMin: 535, yMax: 2652, yStep: 50, yLabelEvery: 200,
    xe: ispXe, kr: ispKr, ar: ispAr,
    yTitle: 'Isp (s)', isp: true, yTitleDx: -72,
  },
  {
    left: 830, width: 415, yAxisW: 90, padRight: 4,
    xMin: 20, xMax: 3600, xTicks: effXTicks,
    yLog: false, yMin: 2, yMax: 50, yStep: 1, yLabelEvery: 5,
    xe: effXe, kr: effKr, ar: effAr,
    yTitle: 'Anode Efficiency (%)', yTitleDx: -47,
  },
];

function Panel({ spec }: { spec: PanelSpec }) {
  const ref = useRef<HTMLCanvasElement>(null);
  useEffect(() => {
    const chart = new Chart(ref.current as HTMLCanvasElement, buildConfig(spec));
    return () => chart.destroy();
  }, [spec]);
  return (
    <canvas
      ref={ref}
      width={spec.width}
      height={619}
      style={{ position: 'absolute', left: spec.left, top: 0, width: spec.width, height: 619 }}
    />
  );
}

export default function App() {
  return (
    <div style={{ position: 'absolute', left: 0, top: 0, width: 1245, height: 619, background: '#ffffff' }}>
      {panels.map((p, i) => (
        <Panel key={i} spec={p} />
      ))}
    </div>
  );
}
